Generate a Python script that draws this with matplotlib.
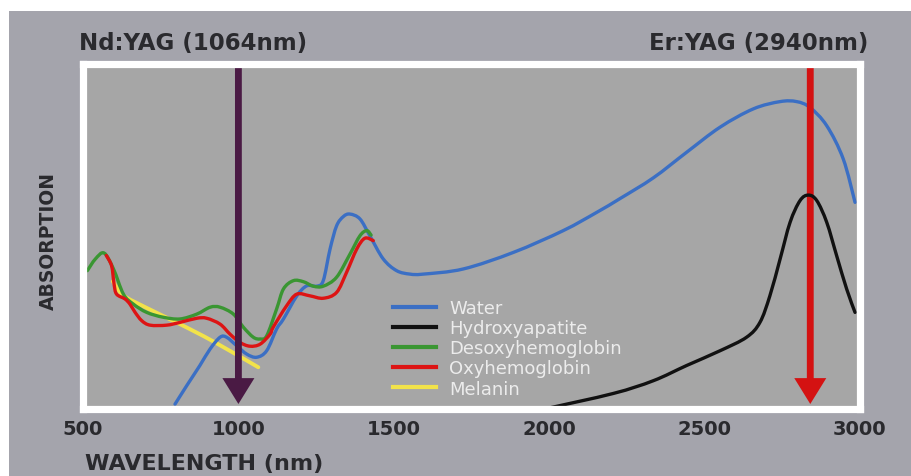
import matplotlib
matplotlib.use("Agg")
import matplotlib.pyplot as plt
from matplotlib.patches import Rectangle, PathPatch
from matplotlib.path import Path
from matplotlib.lines import Line2D

# ---------------- data ----------------
water_wl = [796, 834, 876, 909, 941, 962, 995, 1027, 1059, 1091, 1123, 1145, 1188, 1220,
            1252, 1273, 1295, 1316, 1338, 1359, 1391, 1423, 1466, 1509, 1552, 1595, 1724,
            1885, 2045, 2153, 2228, 2335, 2442, 2550, 2657, 2743, 2796, 2839, 2893, 2946, 2984]
water_abs = [0.014, 0.068, 0.126, 0.174, 0.208, 0.208, 0.183, 0.159, 0.150, 0.169, 0.232, 0.261, 0.328, 0.357,
             0.356, 0.372, 0.464, 0.531, 0.558, 0.565, 0.551, 0.502, 0.435, 0.401, 0.391, 0.391, 0.406,
             0.454, 0.517, 0.570, 0.610, 0.670, 0.744, 0.817, 0.870, 0.891, 0.891, 0.874, 0.821, 0.725, 0.599]

hydroxy_wl = [1985, 2206, 2335, 2442, 2550, 2635, 2678, 2710, 2743, 2775, 2807, 2834,
              2861, 2893, 2925, 2957, 2984]
hydroxy_abs = [0.0, 0.045, 0.082, 0.126, 0.169, 0.208, 0.251, 0.328, 0.435, 0.541, 0.604, 0.620,
               0.604, 0.541, 0.444, 0.348, 0.280]

desoxy_wl = [514, 540, 568, 598, 630, 662, 705, 758, 812, 866, 909, 941, 984, 1016, 1048, 1070,
             1091, 1123, 1145, 1177, 1209, 1241, 1273, 1316, 1359, 1391, 1413, 1427]
desoxy_abs = [0.401, 0.435, 0.452, 0.406, 0.333, 0.304, 0.280, 0.266, 0.261, 0.275, 0.295, 0.295, 0.275,
              0.237, 0.208, 0.203, 0.212, 0.290, 0.348, 0.372, 0.369, 0.356, 0.356, 0.382, 0.449,
              0.502, 0.517, 0.504]

oxy_wl = [575, 592, 600, 608, 635, 651, 667, 689, 716, 769, 812, 866, 898, 941, 973, 1005, 1037,
          1070, 1102, 1112, 1155, 1188, 1230, 1273, 1316, 1348, 1381, 1407, 1434]
oxy_abs = [0.445, 0.415, 0.362, 0.333, 0.319, 0.304, 0.281, 0.256, 0.243, 0.243, 0.251, 0.263, 0.263,
           0.246, 0.217, 0.193, 0.182, 0.188, 0.217, 0.237, 0.299, 0.333, 0.328, 0.321, 0.338,
           0.396, 0.464, 0.495, 0.488]

melanin_wl = [596, 629, 705, 812, 919, 1064]
melanin_abs = [0.370, 0.330, 0.293, 0.246, 0.196, 0.121]

series_names = ["Water", "Hydroxyapatite", "Desoxyhemoglobin", "Oxyhemoglobin", "Melanin"]
series_colors = ["#3b6fc4", "#111111", "#3a9632", "#dd1414", "#f2e34a"]

xticks = [500, 1000, 1500, 2000, 2500, 3000]
nd_yag_wl = 1000
er_yag_wl = 2840

# ---------------- styling ----------------
outer_bg = "#a4a4ac"
inner_bg = "#a6a6a6"
text_c = "#2a2a2e"


def smooth_path(xs, ys):
    """Catmull-Rom curve through the read points, as cubic Bezier segments."""
    pts = list(zip(xs, ys))
    verts = [pts[0]]
    codes = [Path.MOVETO]
    n = len(pts)
    for i in range(n - 1):
        p0 = pts[i - 1] if i > 0 else pts[i]
        p1 = pts[i]
        p2 = pts[i + 1]
        p3 = pts[i + 2] if i + 2 < n else pts[i + 1]
        c1 = (p1[0] + (p2[0] - p0[0]) / 6, p1[1] + (p2[1] - p0[1]) / 6)
        c2 = (p2[0] - (p3[0] - p1[0]) / 6, p2[1] - (p3[1] - p1[1]) / 6)
        verts += [c1, c2, p2]
        codes += [Path.CURVE4] * 3
    return Path(verts, codes)


fig = plt.figure(figsize=(9.12, 4.77), dpi=100, facecolor="white")
bg = Rectangle((9 / 912, 0), 1, 1 - 12 / 477, transform=fig.transFigure,
               facecolor=outer_bg, edgecolor="none", zorder=-10)
fig.patches.append(bg)

ax = fig.add_axes([83 / 912, 67 / 477, 777 / 912, 345 / 477])
ax.set_zorder(1)
ax.set_facecolor(inner_bg)
for s in ax.spines.values():
    s.set_color("white")
    s.set_linewidth(5.2)
    s.set_zorder(5)

ax.set_xlim(500, 3000)
ax.set_ylim(0, 1)
ax.set_xticks(xticks)
ax.set_xticklabels([str(t) for t in xticks])
ax.set_yticks([])
ax.tick_params(axis="x", length=0, pad=7.5, labelsize=14, labelcolor=text_c)
for lbl in ax.get_xticklabels():
    lbl.set_fontweight("bold")

all_wl = [water_wl, hydroxy_wl, desoxy_wl, oxy_wl, melanin_wl]
all_abs = [water_abs, hydroxy_abs, desoxy_abs, oxy_abs, melanin_abs]
zorders = [2.0, 2.4, 2.1, 2.2, 1.9]
widths = [2.4, 2.4, 2.4, 2.4, 2.8]
handles = []
for wl, ab, name, col, z, w in zip(all_wl, all_abs, series_names, series_colors, zorders, widths):
    patch = PathPatch(smooth_path(wl, ab), facecolor="none", edgecolor=col, lw=w,
                      capstyle="round", joinstyle="round", zorder=z)
    ax.add_patch(patch)
    handles.append(Line2D([], [], color=col, lw=3, label=name))

# laser arrows
tip = 0.0145
for wl, col, z in [(nd_yag_wl, "#4a1a44", 2.6), (er_yag_wl, "#d41212", 2.3)]:
    ax.arrow(wl, 1.0, 0, tip - 1.0, width=22, head_width=103, head_length=0.075,
             length_includes_head=True, facecolor=col, edgecolor="none", lw=0, zorder=z)

leg = ax.legend(handles=handles, loc="upper left", bbox_to_anchor=(393 / 912, 1 - 300 / 477),
                bbox_transform=fig.transFigure, frameon=False, fontsize=13,
                labelcolor="#ececec", handlelength=2.4, handletextpad=0.7,
                labelspacing=0.12, borderpad=0, borderaxespad=0)

fig.text(79 / 912, 1 - 50 / 477, "Nd:YAG (1064nm)", ha="left", va="baseline",
         fontsize=16.5, fontweight="bold", color=text_c)
fig.text(868 / 912, 1 - 50 / 477, "Er:YAG (2940nm)", ha="right", va="baseline",
         fontsize=16.5, fontweight="bold", color=text_c)
fig.text(85 / 912, 1 - 470 / 477, "WAVELENGTH (nm)", ha="left", va="baseline",
         fontsize=16, fontweight="bold", color=text_c)
fig.text(48.5 / 912, 1 - 241.5 / 477, "ABSORPTION", ha="center", va="center",
         rotation=90, fontsize=13.5, fontweight="bold", color=text_c)

fig.savefig("out.png", dpi=100, facecolor=fig.get_facecolor())
